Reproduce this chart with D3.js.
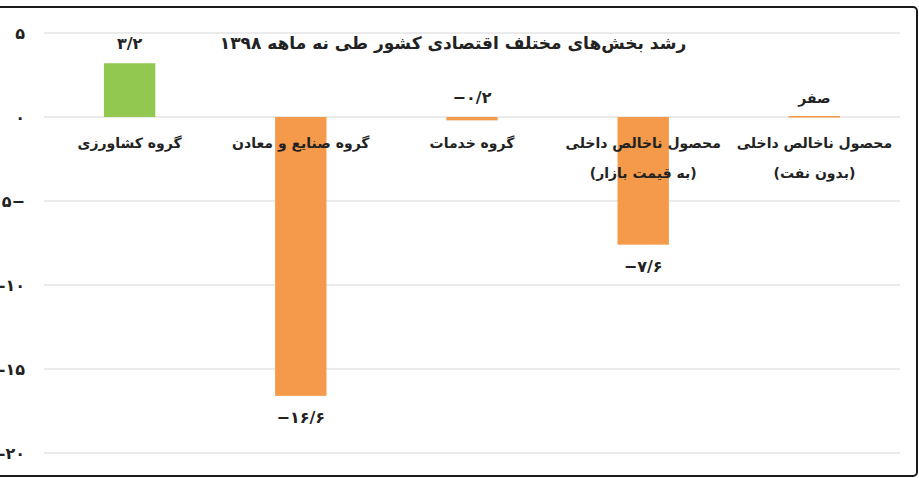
<!DOCTYPE html>
<html>
<head>
<meta charset="utf-8">
<script src="https://cdn.jsdelivr.net/npm/d3@7"></script>
<style>
  body { margin: 0; background: #fff; }
  text { font-family: "DejaVu Sans", sans-serif; font-weight: bold; fill: #222; }
</style>
</head>
<body>
<div id="chart"></div>
<script>
// data
var categories = ["گروه کشاورزی", "گروه صنایع و معادن", "گروه خدمات", "محصول ناخالص داخلی|(به قیمت بازار)", "محصول ناخالص داخلی|(بدون نفت)"];
var values = [3.2, -16.6, -0.2, -7.6, 0];
var yTicks = [5, 0, -5, -10, -15, -20];
var yTickLabels = ["۵", "۰", "۵−", "-۱۰", "-۱۵", "-۲۰"];
var title = "رشد بخش‌های مختلف اقتصادی کشور طی نه ماهه ۱۳۹۸";

var width = 919, height = 478;

var svg = d3.select("#chart")
  .append("svg")
    .attr("width", width)
    .attr("height", height);

// frame (left side is cropped in the original)
svg.append("rect")
  .attr("x", -10).attr("y", 7)
  .attr("width", 927).attr("height", 469)
  .attr("rx", 4)
  .attr("fill", "none")
  .attr("stroke", "#1a1a1a")
  .attr("stroke-width", 2);

var x = d3.scaleBand()
  .domain(categories)
  .range([44, 900])
  .paddingInner(0.7)
  .paddingOuter(0.35);

var y = d3.scaleLinear()
  .domain([-20, 5])
  .range([453, 33]);

function fa(s) {
  return String(s).replace(/[0-9]/g, function(c) { return "۰۱۲۳۴۵۶۷۸۹"[+c]; });
}
function valueLabel(v) {
  if (v == 0) return "صفر";
  var s = fa(Math.abs(v).toFixed(1).replace(".", "/"));
  return (v < 0 ? "−" : "") + s;
}

// gridlines
svg.append("g")
  .selectAll("line")
  .data(yTicks)
  .enter()
  .append("line")
    .attr("x1", 44).attr("x2", 900)
    .attr("y1", function(d) { return y(d); })
    .attr("y2", function(d) { return y(d); })
    .attr("stroke", "#e4e4e4")
    .attr("stroke-width", 1.5);

// y axis labels
svg.append("g")
  .selectAll("text")
  .data(yTicks)
  .enter()
  .append("text")
    .attr("x", 25)
    .attr("y", function(d) { return y(d); })
    .attr("dy", "0.35em")
    .attr("text-anchor", "end")
    .style("direction", "ltr")
    .style("unicode-bidi", "bidi-override")
    .style("font-size", "16px")
    .text(function(d, i) { return yTickLabels[i]; });

// bars
svg.append("g")
  .selectAll("rect")
  .data(values)
  .enter()
  .append("rect")
    .attr("x", function(d, i) { return x(categories[i]); })
    .attr("width", x.bandwidth())
    .attr("y", function(d) { return d == 0 ? y(0) - 1 : y(Math.max(d, 0)); })
    .attr("height", function(d) { return Math.max(Math.abs(y(d) - y(0)), 1.5); })
    .attr("fill", function(d) { return d > 0 ? "#92c84f" : "#f59a4a"; });

// value labels
svg.append("g")
  .selectAll("text")
  .data(values)
  .enter()
  .append("text")
    .attr("x", function(d, i) { return x(categories[i]) + x.bandwidth() / 2; })
    .attr("y", function(d) {
      if (d >= -1) return y(Math.max(d, 0)) - 14;
      return y(d) + 27;
    })
    .attr("text-anchor", "middle")
    .style("direction", "ltr")
    .style("unicode-bidi", "bidi-override")
    .style("font-size", "16px")
    .style("letter-spacing", "1.5px")
    .text(function(d) { return valueLabel(d); })
    .filter(function(d) { return d == 0; })
    .style("direction", "rtl")
    .style("unicode-bidi", "normal")
    .style("letter-spacing", "0px")
    .style("font-size", "14px");

// category labels
var cat = svg.append("g")
  .selectAll("text")
  .data(categories)
  .enter()
  .append("text")
    .attr("x", function(d) { return x(d) + x.bandwidth() / 2; })
    .attr("y", 148)
    .attr("text-anchor", "middle")
    .style("direction", "rtl")
    .style("font-size", "14px");
cat.selectAll("tspan")
  .data(function(d) { return d.split("|").map(function(t) { return {t: t, c: d}; }); })
  .enter()
  .append("tspan")
    .attr("x", function(d) { return x(d.c) + x.bandwidth() / 2; })
    .attr("dy", function(d, i) { return i == 0 ? 0 : 30; })
    .text(function(d) { return d.t; });

// title
svg.append("text")
  .attr("x", 453)
  .attr("y", 49)
  .attr("text-anchor", "middle")
  .style("direction", "rtl")
  .style("font-size", "17px")
  .text(title);
</script>
</body>
</html>
